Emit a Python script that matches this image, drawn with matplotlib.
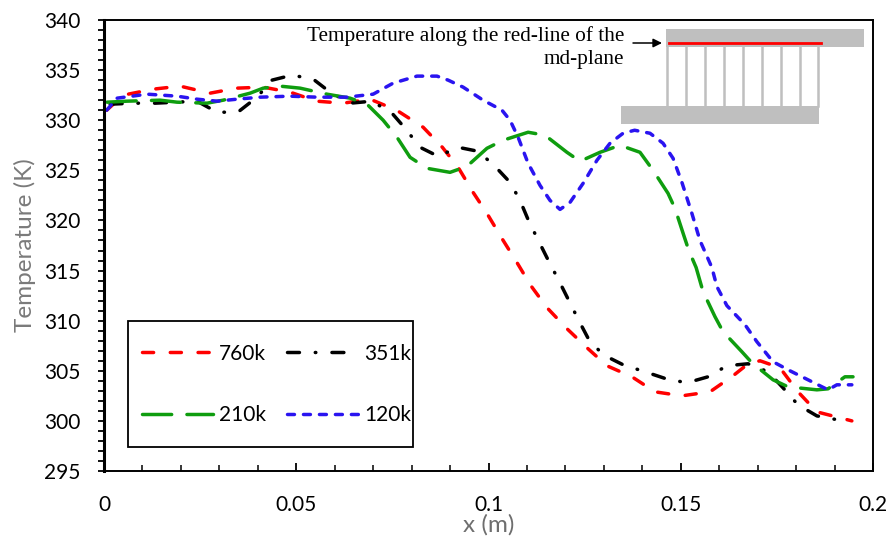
import matplotlib
matplotlib.use('Agg')
import matplotlib.pyplot as plt
from matplotlib.patches import Rectangle

plt.rcParams['font.family'] = ['Lato', 'DejaVu Sans']
plt.rcParams['lines.scale_dashes'] = False

x_760 = [0.0007, 0.005, 0.0128, 0.0198, 0.0276, 0.0345, 0.0414, 0.0484, 0.0553, 0.0622, 0.0692, 0.0761,
         0.083, 0.088, 0.0921, 0.096, 0.0996, 0.1035, 0.1074, 0.111, 0.1152, 0.1204, 0.1256, 0.1308,
         0.1373, 0.1433, 0.1503, 0.1576, 0.1636, 0.1672, 0.1706, 0.1758, 0.1805, 0.1854, 0.1945]
t_760 = [331, 332.5, 333.1, 333.4, 332.7, 333.2, 333.3, 332.8, 331.9, 331.7, 332.1, 331,
         329.3, 327.3, 325.3, 322.8, 320.7, 318.2, 315.8, 313.5, 311.3, 309.2, 307.3, 305.5,
         304.4, 302.9, 302.5, 302.9, 304.5, 305.6, 306, 305.3, 302.9, 300.9, 300]

x_351 = [0.0016, 0.0075, 0.0132, 0.0242, 0.0294, 0.0348, 0.0398, 0.0437, 0.0489, 0.0544, 0.0588, 0.064,
         0.0697, 0.0749, 0.0783, 0.0822, 0.0869, 0.0921, 0.0973, 0.1017, 0.1056, 0.1082, 0.1105, 0.1131,
         0.1157, 0.1183, 0.1209, 0.1235, 0.1261, 0.1298, 0.135, 0.1407, 0.1462, 0.1516, 0.1571, 0.162,
         0.1675, 0.1727, 0.1766, 0.1805, 0.1854, 0.1909, 0.1927]
t_351 = [331.6, 331.7, 331.7, 331.9, 330.8, 330.8, 332.3, 334, 334.5, 334.1, 332.8, 331.7,
         331.9, 330.7, 329.2, 327.3, 326.4, 327.3, 326.9, 325.4, 323.8, 322, 319.9, 317.9,
         315.9, 314, 312, 310, 308.1, 306.6, 305.6, 304.9, 304.2, 303.8, 304.4, 305.5,
         305.7, 304.9, 303.3, 301.6, 300.5, 300.1, 300]

x_210 = [0.0008, 0.006, 0.0146, 0.019, 0.0268, 0.031, 0.038, 0.0414, 0.0458, 0.051, 0.058, 0.064,
         0.0684, 0.0726, 0.0762, 0.0796, 0.084, 0.09, 0.0944, 0.0996, 0.1038, 0.1103, 0.1147, 0.1204,
         0.1238, 0.129, 0.1342, 0.1394, 0.1428, 0.1467, 0.1485, 0.1508, 0.1521, 0.154, 0.1558, 0.1589,
         0.161, 0.1659, 0.1685, 0.174, 0.1779, 0.1854, 0.1883, 0.1927, 0.1948]
t_210 = [331.8, 331.9, 332, 331.8, 331.7, 332, 332.7, 333.2, 333.4, 333.2, 332.6, 332.2,
         331.6, 330, 328.3, 326.3, 325.2, 324.8, 325.4, 327.2, 328, 328.8, 328.5, 326.8,
         325.9, 326.8, 327.5, 326.8, 325, 322.7, 321.2, 318.5, 317, 315.3, 312.9, 310.4,
         308.9, 306.9, 305.8, 304.1, 303.4, 303.1, 303.2, 304.4, 304.4]

x_120 = [0.0007, 0.0034, 0.0112, 0.019, 0.0242, 0.0294, 0.0346, 0.0406, 0.0484, 0.0554, 0.0632, 0.07,
         0.0752, 0.0814, 0.0866, 0.0895, 0.0934, 0.0986, 0.1035, 0.1056, 0.1077, 0.1103, 0.1134, 0.116,
         0.1186, 0.1212, 0.1246, 0.1282, 0.1316, 0.135, 0.138, 0.142, 0.1454, 0.148, 0.1503, 0.1529,
         0.155, 0.1581, 0.1594, 0.162, 0.1667, 0.1698, 0.174, 0.1784, 0.1831, 0.1883, 0.1906, 0.1945]
t_120 = [331, 332.2, 332.6, 332.4, 332.1, 331.9, 332.1, 332.3, 332.4, 332.3, 332.3, 332.6,
         333.7, 334.4, 334.4, 334, 333.3, 332, 331, 330, 328.3, 325.7, 323.5, 322,
         321.1, 321.8, 323.7, 326, 327.7, 328.7, 329, 328.7, 327.7, 326.2, 323.8, 320.7,
         318, 315.3, 313.4, 311.5, 309.6, 307.9, 305.9, 305, 304.1, 303.1, 303.6, 303.6]

x_ticks = [0, 0.05, 0.1, 0.15, 0.2]
x_tick_labels = ['0', '0.05', '0.1', '0.15', '0.2']
y_ticks = [295, 300, 305, 310, 315, 320, 325, 330, 335, 340]

W, H = 888, 538
fig = plt.figure(figsize=(W / 100, H / 100), dpi=100)
ax = fig.add_axes([104 / W, 1 - 471 / H, 769 / W, 451 / H])

line_kw = dict(lw=2.5, dash_capstyle='round', dash_joinstyle='round')
l760, = ax.plot(x_760, t_760, color='#ff0000', dashes=(8, 12), label='760k', **line_kw)
l351, = ax.plot(x_351, t_351, color='#000000', dashes=(8.6, 11.4, 0.4, 11.6), label='351k', **line_kw)
l210, = ax.plot(x_210, t_210, color='#0f9d0f', dashes=(21, 11), label='210k', **line_kw)
l120, = ax.plot(x_120, t_120, color='#2a14f0', dashes=(5, 6.5), label='120k', **line_kw)

ax.set_xlim(0, 0.2)
ax.set_ylim(295, 340)
ax.set_xticks(x_ticks)
ax.set_xticklabels(x_tick_labels)
ax.set_yticks(y_ticks)
ax.set_xticks([i / 100 for i in range(21)], minor=True)
ax.set_yticks(range(295, 341), minor=True)
ax.tick_params(axis='x', which='major', direction='in', length=5.5, width=1.3, labelsize=15, pad=17.5)
ax.tick_params(axis='x', which='minor', direction='in', length=4, width=1.1)
ax.tick_params(axis='y', which='both', direction='out', length=4.5, width=1.3, labelsize=15, pad=12.5)
for name, spine in ax.spines.items():
    spine.set_linewidth(1.4)
ax.spines['left'].set_linewidth(2.2)

ax.set_xlabel('x (m)', fontsize=17.5, color='#6e6e6e', labelpad=-1)
ax.set_ylabel('Temperature (K)', fontsize=17.5, color='#7a7a7a', labelpad=6)

# rough schematic + legend box, in pixel coords
over = fig.add_axes([0, 0, 1, 1], facecolor='none')
over.set_xlim(0, W)
over.set_ylim(H, 0)
over.axis('off')
over.add_patch(Rectangle((666, 29), 198, 18, color='#bfbfbf', lw=0))
over.add_patch(Rectangle((621, 106), 198, 18, color='#bfbfbf', lw=0))
for px in [667, 686, 705, 724, 743, 762, 781, 800, 818]:
    over.plot([px, px], [47, 106], color='#bfbfbf', lw=1.8)
over.plot([669, 821], [43, 43], color='#ff0000', lw=2)
over.annotate('', xy=(662, 43), xytext=(633, 43),
              arrowprops=dict(arrowstyle='-|>', color='black', lw=1.1, shrinkA=0, shrinkB=0, mutation_scale=13))
over.text(624, 47.5, 'Temperature along the red-line of the\nmd-plane', family='Liberation Serif',
          fontsize=15.3, ha='right', va='center', multialignment='right', linespacing=1.25)
over.add_patch(Rectangle((128, 321), 285, 126, fill=False, ec='black', lw=1.3))

# legend fills column by column, reference reads row by row
ax.legend(handles=[l760, l210, l351, l120], ncol=2, frameon=False, loc='lower left',
          bbox_to_anchor=(136 / W, 1 - 431.5 / H), bbox_transform=fig.transFigure, fontsize=15,
          handlelength=3.4, handletextpad=0.3, columnspacing=1.0, labelspacing=2.0,
          borderpad=0.3, borderaxespad=0)

fig.savefig('out.png', dpi=100)
